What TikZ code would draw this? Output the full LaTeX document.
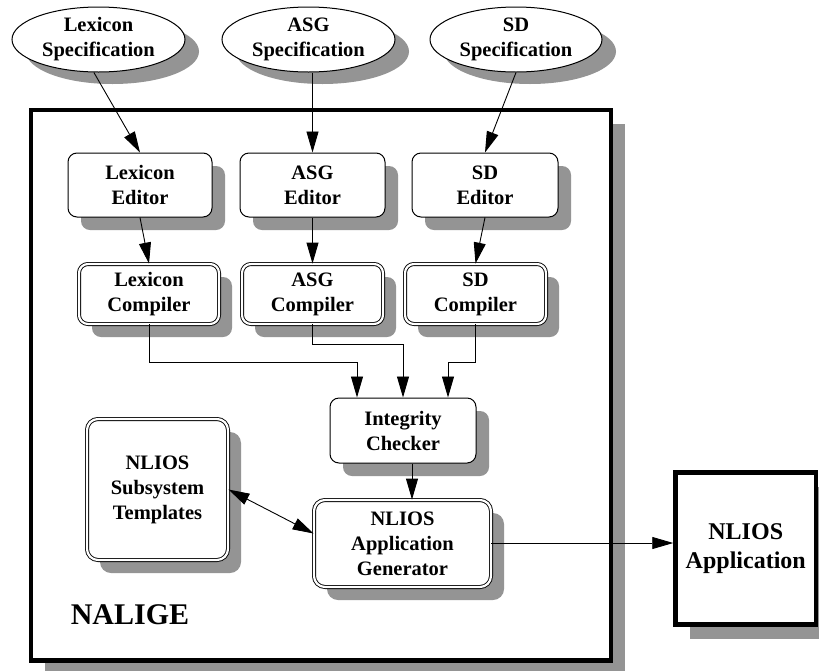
\documentclass[tikz,border=0pt]{standalone}
\usepackage{fontspec}
\setmainfont{Liberation Serif}[BoldFont={Liberation Serif Bold}]
\usetikzlibrary{shapes.geometric,shadows,arrows.meta,calc}
\definecolor{shd}{RGB}{148,148,148}
\newcommand{\boxfont}{\fontsize{20.5}{25}\selectfont\bfseries}
\begin{document}
\begin{tikzpicture}[x=1pt,y=-1pt,
  shad/.style={drop shadow={shadow xshift=13pt,shadow yshift=-13pt,fill=shd,opacity=1}},
  spec/.style={ellipse, draw, line width=1pt, fill=white, minimum width=173pt, minimum height=65pt,
    font=\boxfont, align=center, inner sep=0pt,
    drop shadow={shadow xshift=14pt,shadow yshift=-12pt,fill=shd,opacity=1}},
  editbox/.style={rectangle, rounded corners=9pt, draw, line width=1pt, fill=white, shad,
    font=\boxfont, align=center, inner sep=0pt, minimum width=144pt, minimum height=64pt},
  dblbox/.style={rectangle, rounded corners=9pt, draw, line width=0.9pt, double=white,
    font=\boxfont, align=center, inner sep=0pt, double distance=2.2pt, fill=white, shad},
  bigbox/.style={rectangle, draw, line width=4.5pt, fill=white, align=center, inner sep=0pt,
    drop shadow={shadow xshift=14pt,shadow yshift=-14pt,fill=shd,opacity=1}},
  arr/.style={-{Triangle[length=21pt,width=12pt]}, line width=0.9pt},
  dblarr/.style={{Triangle[length=21pt,width=12pt]}-{Triangle[length=21pt,width=12pt]}, line width=0.9pt},
]
\useasboundingbox (0,0) rectangle (819,670);

% outer NALIGE frame
\node[bigbox, minimum width=580pt, minimum height=550.5pt] (frame) at (321,385.25) {};
\node[font=\fontsize{30}{36}\selectfont\bfseries, inner sep=0pt] (nalige) at (130,615) {NALIGE};

% specifications
\node[spec] (lspec) at (98.5,39.5) {Lexicon\\Specification};
\node[spec] (aspec) at (308.5,39.5) {ASG\\Specification};
\node[spec, minimum width=172pt] (sspec) at (516,39.5) {SD\\Specification};

% editors
\node[editbox] (led) at (140,185) {Lexicon\\Editor};
\node[editbox, minimum width=145pt] (aed) at (312.5,185) {ASG\\Editor};
\node[editbox, minimum width=146pt] (sed) at (485,185) {SD\\Editor};

% compilers
\node[dblbox, minimum width=140pt, minimum height=60pt] (lcomp) at (149,294) {Lexicon\\Compiler};
\node[dblbox, minimum width=141pt, minimum height=60pt] (acomp) at (312.5,294) {ASG\\Compiler};
\node[dblbox, minimum width=141pt, minimum height=60pt] (scomp) at (475.5,294) {SD\\Compiler};

% integrity checker
\node[editbox, minimum width=146pt, minimum height=65pt] (integ) at (403,430.5) {Integrity\\Checker};

% generator and templates
\node[dblbox, rounded corners=11pt, minimum width=177pt, minimum height=87pt] (nag) at (402.5,543.5) {NLIOS\\Application\\Generator};
\node[dblbox, rounded corners=11pt, minimum width=141pt, minimum height=141pt] (tmpl) at (157.5,489.5) {NLIOS\\Subsystem\\Templates};

% application
\node[bigbox, minimum width=140.5pt, minimum height=152pt, font=\fontsize{24}{28.5}\selectfont\bfseries] (app) at (745.75,548.5) {NLIOS\\Application};

% connectors
\draw[arr] (lspec.-98) -- (led.north);
\draw[arr] (aed.north |- aspec.south) -- (aed.north);
\draw[arr] (sspec.south) -- (sed.north);
\draw[arr] (led.south) -- (lcomp.north);
\draw[arr] (aed.south) -- (acomp.north);
\draw[arr] (sed.south) -- (scomp.north);
\draw[arr] (lcomp.south) -- (lcomp.south |- 0,362) -| ([xshift=-46pt]integ.north);
\draw[arr] (acomp.south) -- (acomp.south |- 0,344) -| (integ.north);
\draw[arr] (scomp.south) -- (scomp.south |- 0,362) -| ([xshift=45pt]integ.north);
\draw[arr] ([xshift=9pt]integ.south) -- ([xshift=9pt]integ.south |- nag.north);
\draw[dblarr] (tmpl.east) -- ([yshift=10pt]nag.west);
\draw[arr] ([yshift=0.5pt]nag.east) -- ([yshift=0.5pt]nag.east -| app.west);
\end{tikzpicture}
\end{document}
